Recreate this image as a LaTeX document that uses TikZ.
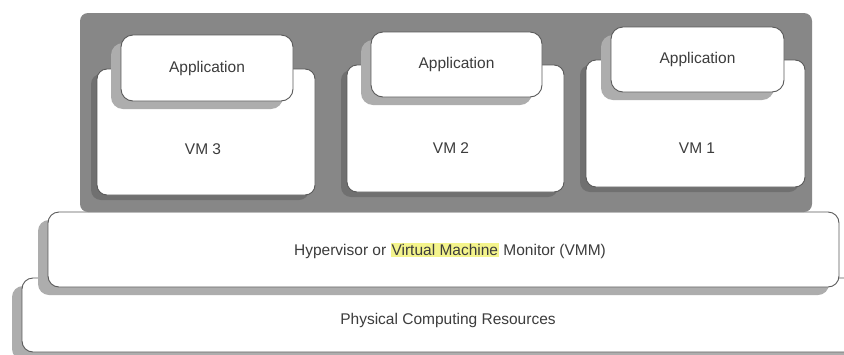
\documentclass[tikz,border=0pt]{standalone}
\usepackage{fontspec}
\setmainfont{Liberation Sans}
\usetikzlibrary{shadows}
\definecolor{hostgray}{HTML}{878787}
\definecolor{edgegray}{HTML}{5A5A5A}
\definecolor{txtgray}{HTML}{3C3C3C}
\definecolor{hilite}{HTML}{F4F48C}
\tikzset{
  hostbox/.style={rectangle,rounded corners=8pt,fill=hostgray,inner sep=0pt},
  vmbox/.style={rectangle,rounded corners=10pt,draw=edgegray,line width=0.9pt,fill=white,inner sep=0pt,
    drop shadow={shadow xshift=-6pt,shadow yshift=-5pt,fill=black!56,opacity=1}},
  appbox/.style={rectangle,rounded corners=12pt,draw=edgegray,line width=0.9pt,fill=white,inner sep=0pt,
    text=txtgray,drop shadow={shadow xshift=-10pt,shadow yshift=-8pt,fill=black!32,opacity=1}},
  layerbox/.style={rectangle,rounded corners=11pt,draw=edgegray,line width=0.9pt,fill=white,inner sep=0pt,
    drop shadow={shadow xshift=-10pt,shadow yshift=-8pt,fill=black!32,opacity=1}},
  boxtext/.style={text=txtgray,inner sep=0pt}
}
\begin{document}
\begin{tikzpicture}[x=1pt,y=-1pt,font=\fontsize{15.5}{18}\selectfont]
  \useasboundingbox[fill=white] (0,0) rectangle (844,354);

  % bottom layers
  \node[layerbox,minimum width=838,minimum height=74] (phys) at (441,315) {};
  \node[boxtext] (physlbl) at (448,320) {Physical Computing Resources};
  \node[layerbox,minimum width=791,minimum height=75] (hyp) at (443.5,249.5) {};
  \node[boxtext] (hyplbl) at (450,251)
    {Hypervisor or {\fboxsep=1pt\colorbox{hilite}{Virtual Machine}} Monitor (VMM)};

  % guest area
  \node[hostbox,minimum width=732,minimum height=199] (host) at (446,112.5) {};

  \node[vmbox,minimum width=218,minimum height=126] (vm3) at (206,132) {};
  \node[vmbox,minimum width=217,minimum height=127] (vm2) at (455.5,128.5) {};
  \node[vmbox,minimum width=219,minimum height=127] (vm1) at (695.5,123.5) {};
  \node[boxtext] (vm3lbl) at (203,149) {VM 3};
  \node[boxtext] (vm2lbl) at (451,148) {VM 2};
  \node[boxtext] (vm1lbl) at (697,148) {VM 1};

  \node[appbox,minimum width=172,minimum height=66] (app3) at (207,68) {Application};
  \node[appbox,minimum width=171,minimum height=65] (app2) at (456.5,64.5) {Application};
  \node[appbox,minimum width=173,minimum height=65] (app1) at (697.5,59.5) {Application};
\end{tikzpicture}
\end{document}
